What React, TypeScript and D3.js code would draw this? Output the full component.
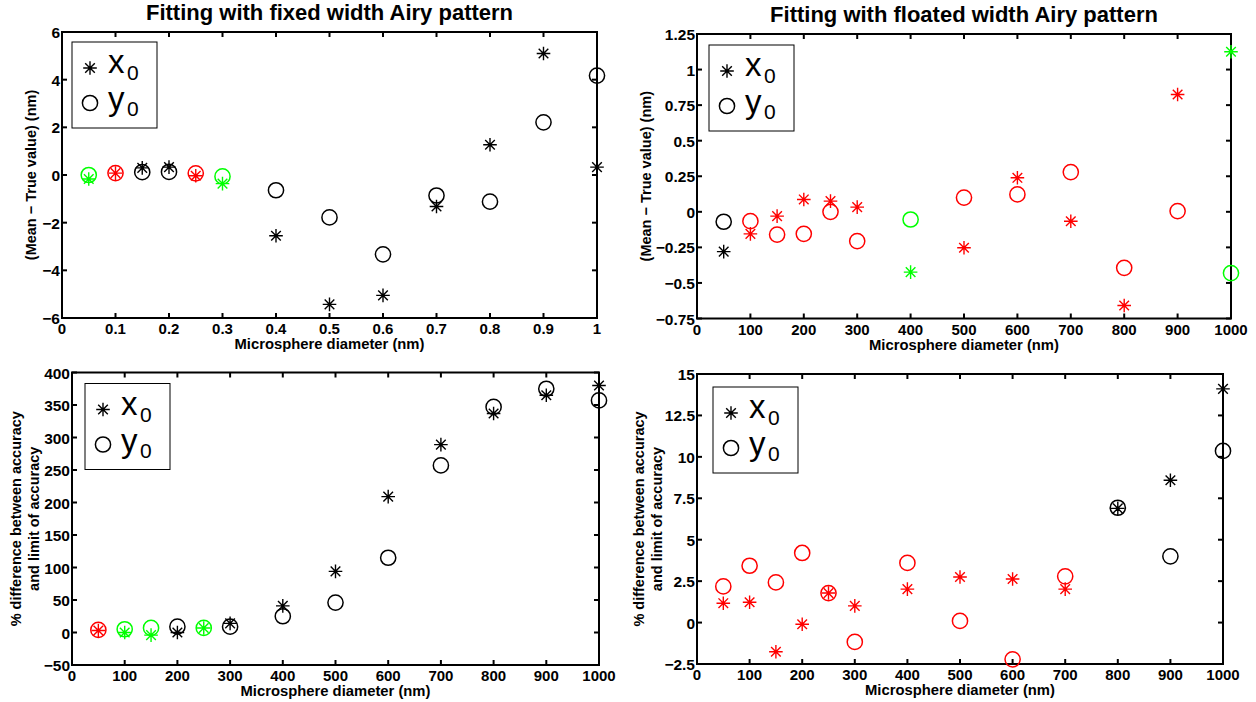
import React from "react";
import * as d3 from "d3";

// Microsphere diameters (µm for the fixed-width fit, nm for the rest)
const fixedDiameters = [0.05, 0.1, 0.15, 0.2, 0.25, 0.3, 0.4, 0.5, 0.6, 0.7, 0.8, 0.9, 1.0];
const diametersNm = [50, 100, 150, 200, 250, 300, 400, 500, 600, 700, 800, 900, 1000];

// Mean minus true value (nm), fixed width Airy fit
const fixedX0 = [-0.17, 0.08, 0.3, 0.33, -0.03, -0.36, -2.55, -5.43, -5.05, -1.32, 1.27, 5.1, 0.33];
const fixedY0 = [0, 0.08, 0.12, 0.13, 0.07, -0.06, -0.64, -1.78, -3.33, -0.86, -1.12, 2.21, 4.17];
// Fit group per diameter: 0 = normal, 1 = group A, 2 = group B
const fixedGroups = [2, 1, 0, 0, 1, 2, 0, 0, 0, 0, 0, 0, 0];

// Mean minus true value (nm), floated width Airy fit
const floatX0 = [-0.28, -0.155, -0.03, 0.087, 0.075, 0.033, -0.424, -0.253, 0.239, -0.066, -0.659, 0.825, 1.125];
const floatY0 = [-0.07, -0.066, -0.16, -0.155, 0, -0.206, -0.054, 0.1, 0.122, 0.279, -0.394, 0.005, -0.431];
const floatGroups = [0, 1, 1, 1, 1, 1, 2, 1, 1, 1, 1, 1, 2];

// % difference between accuracy and limit of accuracy, fixed width fit
const accFixedX0 = [3, 0, -4, 0, 7, 14, 41, 94, 209, 289, 337, 365, 380];
const accFixedY0 = [4, 5, 7, 9, 7, 9, 25, 46, 115, 257, 347, 375, 357];
const accFixedGroups = [1, 2, 2, 0, 2, 0, 0, 0, 0, 0, 0, 0, 0];

// % difference between accuracy and limit of accuracy, floated width fit
const accFloatX0 = [1.17, 1.23, -1.76, -0.1, 1.78, 1.01, 2.02, 2.75, 2.63, 2.02, 6.89, 8.59, 14.1];
const accFloatY0 = [2.18, 3.43, 2.42, 4.2, 1.78, -1.17, 3.6, 0.1, -2.22, 2.79, 6.93, 4.0, 10.36];
const accFloatGroups = [1, 1, 1, 1, 1, 1, 1, 1, 1, 1, 0, 0, 0];

// Tick values
const fixedXTicks = [0, 0.1, 0.2, 0.3, 0.4, 0.5, 0.6, 0.7, 0.8, 0.9, 1];
const fixedYTicks = [-6, -4, -2, 0, 2, 4, 6];
const nmXTicks = [0, 100, 200, 300, 400, 500, 600, 700, 800, 900, 1000];
const floatYTicks = [-0.75, -0.5, -0.25, 0, 0.25, 0.5, 0.75, 1, 1.25];
const accFixedYTicks = [-50, 0, 50, 100, 150, 200, 250, 300, 350, 400];
const accFloatYTicks = [-2.5, 0, 2.5, 5, 7.5, 10, 12.5, 15];

const groupColor = d3.scaleOrdinal<number, string>().domain([0, 1, 2]).range(["#000000", "#ff0000", "#00ff00"]);

const FONT = "'Liberation Sans', Arial, Helvetica, sans-serif";
const fmt = (v: number) => String(v).replace("-", "\u2212");

type Box = { left: number; right: number; top: number; bottom: number };

function starPath(cx: number, cy: number, r: number) {
  const d = r * Math.SQRT1_2;
  return `M${cx - r},${cy}H${cx + r}M${cx},${cy - r}V${cy + r}` +
    `M${cx - d},${cy - d}L${cx + d},${cy + d}M${cx - d},${cy + d}L${cx + d},${cy - d}`;
}

const STAR_R = 6.8;
const CIRCLE_R = 7.6;

type PanelProps = {
  box: Box;
  xDomain: [number, number];
  yDomain: [number, number];
  xTicks: number[];
  yTicks: number[];
  xs: number[];
  x0: number[];
  y0: number[];
  groups: number[];
  title?: string;
  titleY?: number;
  yLabel: string[];
  yLabelX: number[];
  legendOffset: [number, number];
};

function Panel(p: PanelProps) {
  const { box } = p;
  const x = d3.scaleLinear().domain(p.xDomain).range([box.left, box.right]);
  const y = d3.scaleLinear().domain(p.yDomain).range([box.bottom, box.top]);
  const tick = 5;
  const cxMid = (box.left + box.right) / 2;
  const cyMid = (box.top + box.bottom) / 2;
  const lx = box.left + p.legendOffset[0];
  const ly = box.top + p.legendOffset[1];
  return (
    <g fontFamily={FONT}>
      {p.title && (
        <text x={cxMid} y={p.titleY} textAnchor="middle" fontSize={22} fontWeight="bold">
          {p.title}
        </text>
      )}
      {/* ticks on all four sides */}
      {p.xTicks.map((t) => (
        <g key={"xt" + t}>
          <line x1={x(t)} x2={x(t)} y1={box.bottom} y2={box.bottom - tick} stroke="#000" strokeWidth={2} />
          <line x1={x(t)} x2={x(t)} y1={box.top} y2={box.top + tick} stroke="#000" strokeWidth={2} />
          <text x={x(t)} y={box.bottom + 16} textAnchor="middle" fontSize={15} fontWeight="bold">
            {fmt(t)}
          </text>
        </g>
      ))}
      {p.yTicks.map((t) => (
        <g key={"yt" + t}>
          <line x1={box.left} x2={box.left + tick} y1={y(t)} y2={y(t)} stroke="#000" strokeWidth={2} />
          <line x1={box.right} x2={box.right - tick} y1={y(t)} y2={y(t)} stroke="#000" strokeWidth={2} />
          <text x={box.left - 2} y={y(t) + 6} textAnchor="end" fontSize={15.5} fontWeight="bold">
            {fmt(t)}
          </text>
        </g>
      ))}
      <rect x={box.left} y={box.top} width={box.right - box.left} height={box.bottom - box.top}
        fill="none" stroke="#000" strokeWidth={2} />
      {/* axis labels */}
      <text x={cxMid} y={box.bottom + 31} textAnchor="middle" fontSize={14.8} fontWeight="bold">
        Microsphere diameter (nm)
      </text>
      {p.yLabel.map((line, i) => (
        <text key={line} transform={`translate(${p.yLabelX[i]},${cyMid}) rotate(-90)`} dy="0.35em"
          textAnchor="middle" fontSize={14.5} fontWeight="bold">
          {line}
        </text>
      ))}
      {/* data markers */}
      {p.xs.map((d, i) => (
        <g key={"pt" + i} fill="none" stroke={groupColor(p.groups[i])}>
          <path d={starPath(x(d), y(p.x0[i]), STAR_R)} strokeWidth={1.4} />
          <circle cx={x(d)} cy={y(p.y0[i])} r={CIRCLE_R} strokeWidth={1.5} />
        </g>
      ))}
      {/* legend */}
      <g>
        <rect x={lx} y={ly} width={85} height={86} fill="#fff" stroke="#000" strokeWidth={1} />
        <path d={starPath(lx + 18, ly + 26, STAR_R)} fill="none" stroke="#000" strokeWidth={1.4} />
        <text x={lx + 36} y={ly + 31} fontSize={33}>x</text>
        <text x={lx + 55} y={ly + 38} fontSize={21}>0</text>
        <circle cx={lx + 18} cy={ly + 61} r={CIRCLE_R} fill="none" stroke="#000" strokeWidth={1.5} />
        <text x={lx + 36} y={ly + 68} fontSize={33}>y</text>
        <text x={lx + 55} y={ly + 74} fontSize={21}>0</text>
      </g>
    </g>
  );
}

export default function App() {
  return (
    <div style={{ position: "absolute", left: 0, top: 0 }}>
      <svg width={1256} height={702} style={{ display: "block", background: "#fff" }}>
        <Panel
          box={{ left: 62, right: 597, top: 32, bottom: 318 }}
          xDomain={[0, 1]} yDomain={[-6, 6]}
          xTicks={fixedXTicks} yTicks={fixedYTicks}
          xs={fixedDiameters} x0={fixedX0} y0={fixedY0} groups={fixedGroups}
          title="Fitting with fixed width Airy pattern" titleY={19.5}
          yLabel={["(Mean \u2212 True value) (nm)"]} yLabelX={[31]}
          legendOffset={[10, 10]}
        />
        <Panel
          box={{ left: 697, right: 1231, top: 34, bottom: 318.5 }}
          xDomain={[0, 1000]} yDomain={[-0.75, 1.25]}
          xTicks={nmXTicks} yTicks={floatYTicks}
          xs={diametersNm} x0={floatX0} y0={floatY0} groups={floatGroups}
          title="Fitting with floated width Airy pattern" titleY={22}
          yLabel={["(Mean \u2212 True value) (nm)"]} yLabelX={[646]}
          legendOffset={[12, 11]}
        />
        <Panel
          box={{ left: 72, right: 599, top: 372.5, bottom: 665 }}
          xDomain={[0, 1000]} yDomain={[-50, 400]}
          xTicks={nmXTicks} yTicks={accFixedYTicks}
          xs={diametersNm} x0={accFixedX0} y0={accFixedY0} groups={accFixedGroups}
          yLabel={["% difference between accuracy", "and limit of accuracy"]} yLabelX={[16, 34]}
          legendOffset={[13, 11]}
        />
        <Panel
          box={{ left: 697, right: 1223, top: 374, bottom: 664 }}
          xDomain={[0, 1000]} yDomain={[-2.5, 15]}
          xTicks={nmXTicks} yTicks={accFloatYTicks}
          xs={diametersNm} x0={accFloatX0} y0={accFloatY0} groups={accFloatGroups}
          yLabel={["% difference between accuracy", "and limit of accuracy"]} yLabelX={[638.5, 657]}
          legendOffset={[16, 13]}
        />
      </svg>
    </div>
  );
}
